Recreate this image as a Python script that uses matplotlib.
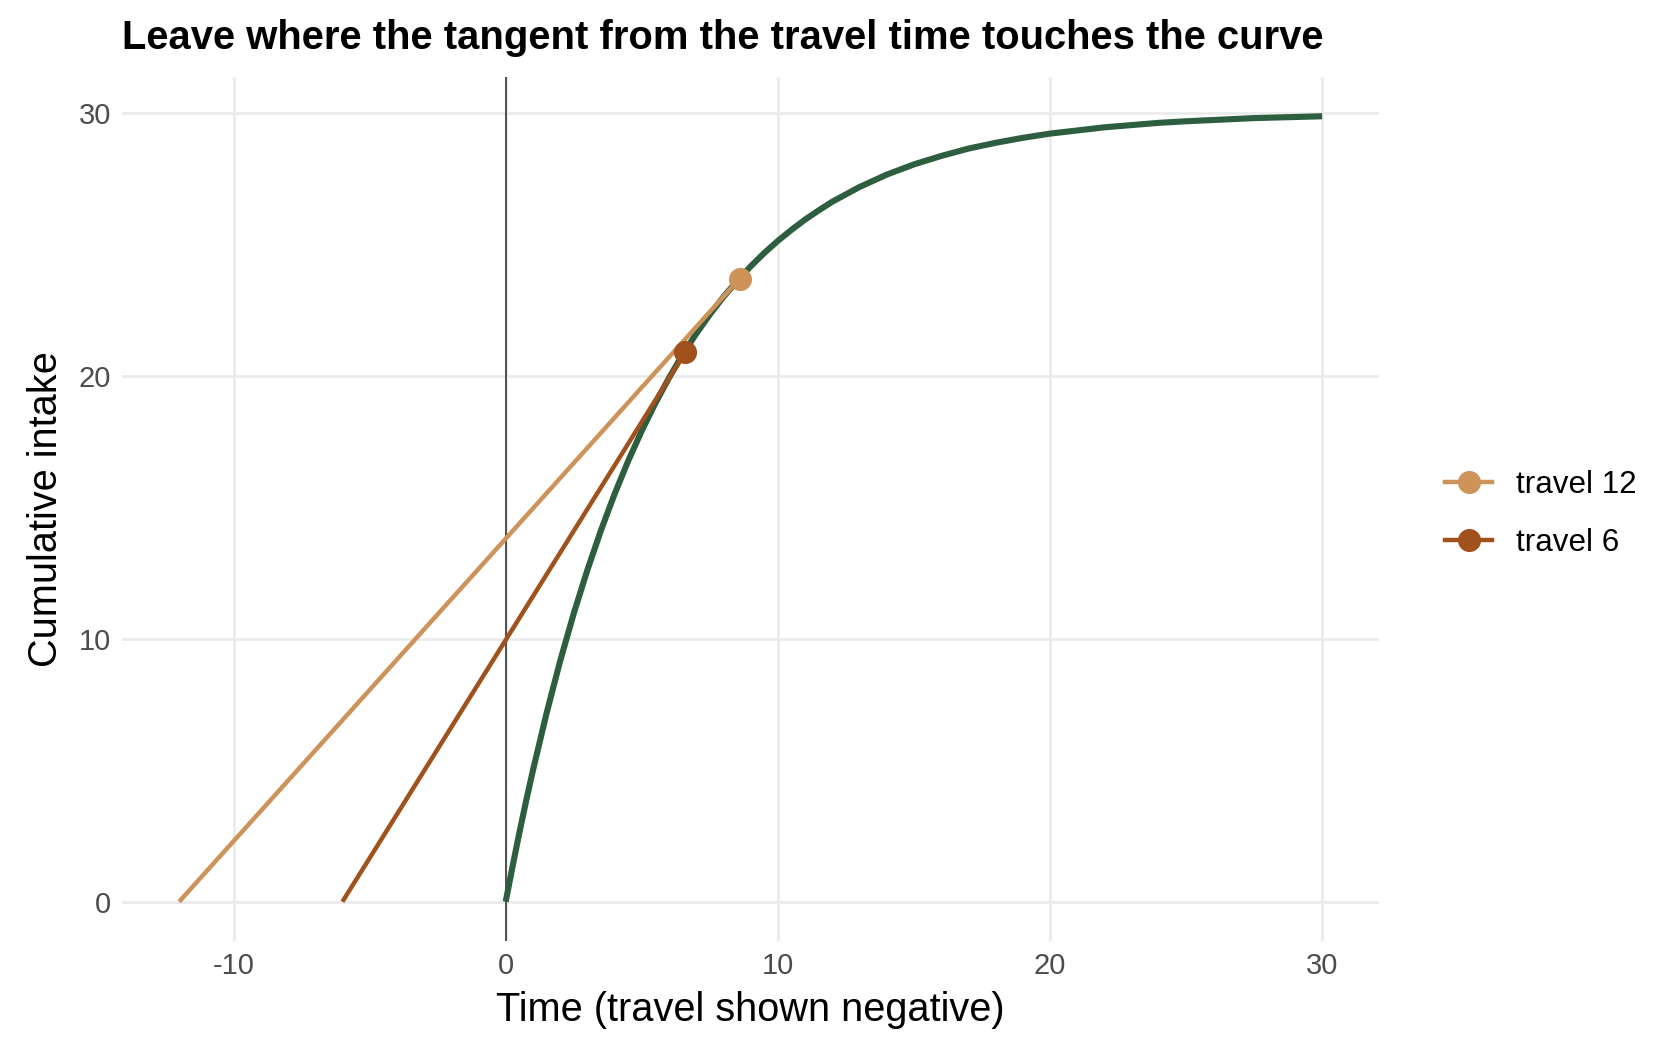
import matplotlib
matplotlib.use("Agg")
import matplotlib.pyplot as plt

plt.rcParams['font.family'] = ['Liberation Sans', 'DejaVu Sans']
plt.rcParams['axes.unicode_minus'] = False

# gain curve
curve_t = [0, 0.25, 0.5, 0.75, 1, 1.5, 2, 2.5, 3, 3.5, 4, 4.5, 5, 5.5, 6, 6.5, 7, 7.5, 8, 8.5,
           9, 9.5, 10, 10.5, 11, 11.5, 12, 13, 14, 15, 16, 17, 18, 19, 20, 22, 24, 25, 27.5, 30]
curve_g = [0, 1.33, 2.61, 3.83, 4.99, 7.16, 9.15, 10.96, 12.61, 14.12, 15.50, 16.76, 17.91,
           18.96, 19.92, 20.80, 21.60, 22.33, 23.00, 23.60, 24.16, 24.67, 25.13, 25.55, 25.94,
           26.29, 26.62, 27.18, 27.65, 28.04, 28.36, 28.64, 28.86, 29.05, 29.21, 29.45, 29.62,
           29.68, 29.80, 29.87]

# tangent lines: (travel start, 0) -> touching point
labels = ["travel 12", "travel 6"]
travel = [-12, -6]
touch_t = [8.6, 6.6]
touch_g = [23.7, 20.9]
colors = ["#CD9359", "#A0511C"]
curve_color = "#2D5E40"

fig = plt.figure(figsize=(8.4, 5.28), dpi=200)
ax = fig.add_axes([0.0726, 0.109, 0.7484, 0.818])

ax.axvline(0, color="#333333", lw=0.6, zorder=2)
ax.plot(curve_t, curve_g, color=curve_color, lw=2.2, zorder=3, solid_capstyle="butt")
for lab, t0, tt, gg, c in zip(labels, travel, touch_t, touch_g, colors):
    ax.plot([t0, tt], [0, gg], color=c, lw=1.6, zorder=4, solid_capstyle="butt")
    ax.plot([tt], [gg], 'o', color=c, ms=7.3, zorder=5)
    ax.plot([], [], color=c, lw=1.6, marker='o', ms=7.3, label=lab)

ax.set_xlim(-14.1, 32.1)
ax.set_ylim(-1.49, 31.36)
ax.set_xticks([-10, 0, 10, 20, 30])
ax.set_yticks([0, 10, 20, 30])
ax.grid(True, color="#EBEBEB", lw=1.0)
ax.set_axisbelow(True)
for s in ax.spines.values():
    s.set_visible(False)
ax.tick_params(length=0, labelsize=10.5, labelcolor="#4D4D4D", pad=4)

ax.set_xlabel("Time (travel shown negative)", fontsize=14.3, labelpad=4)
ax.set_ylabel("Cumulative intake", fontsize=14.3, labelpad=5)
ax.set_title("Leave where the tangent from the travel time touches the curve",
             fontsize=14.4, fontweight="bold", loc="left", x=0.0, pad=10)

leg = ax.legend(loc="center left", bbox_to_anchor=(1.03, 0.494), frameon=False,
                fontsize=11.3, handlelength=1.5, labelspacing=0.9, handletextpad=0.75)

fig.savefig("out.png", dpi=200, facecolor="white")
